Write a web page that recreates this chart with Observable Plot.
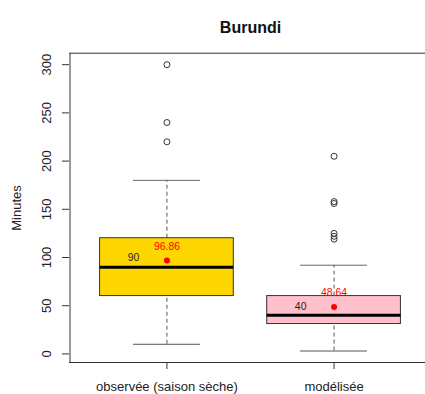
<!DOCTYPE html>
<html>
<head>
<meta charset="utf-8">
<script src="https://cdn.jsdelivr.net/npm/d3@7"></script>
<script src="https://cdn.jsdelivr.net/npm/@observablehq/plot@0.6"></script>
<style>
  html, body { margin: 0; padding: 0; background: white; overflow: hidden; }
  #chart svg { display: block; }
</style>
</head>
<body>
<div id="chart"></div>
<script>
// Travel time (minutes) — Burundi: observed (dry season) vs modelled
const groups = ["observée (saison sèche)", "modélisée"];
const fills = ["#FFD700", "#FFC0CB"];
const whiskerLow = [10, 3];
const q1 = [60, 31];
const median = [90, 40];
const q3 = [120, 60];
const whiskerHigh = [180, 92];
const means = [96.86, 48.64];
const outliers = [
  [220, 240, 300],
  [119, 122, 125, 156, 158, 205]
];
const yTicks = [0, 50, 100, 150, 200, 250, 300];

const boxes = groups.map((g, i) => ({
  pos: i + 1, name: g, fill: fills[i],
  lo: whiskerLow[i], q1: q1[i], med: median[i], q3: q3[i], hi: whiskerHigh[i], mean: means[i]
}));
const outlierPts = outliers.flatMap((vals, i) => vals.map(v => ({pos: i + 1, v})));

const xDomain = [0.42, 2.58];
const yDomain = [-8.9, 311.9];
const xMid = (xDomain[0] + xDomain[1]) / 2;
const font = "'Liberation Sans', Arial, Helvetica, sans-serif";

const chart = Plot.plot({
  width: 425,
  height: 394,
  marginLeft: 69,
  marginTop: 53,
  marginBottom: 32,
  marginRight: 0,
  style: {fontFamily: font, fontSize: "13px", color: "#111", background: "white"},
  x: {type: "linear", domain: xDomain, range: [69.5, 430.5], axis: null},
  y: {domain: yDomain, range: [362, 52.7], axis: null},
  marks: [
    // whiskers
    Plot.ruleX(boxes, {x: "pos", y1: "q3", y2: "hi", stroke: "#555", strokeDasharray: "4,3"}),
    Plot.ruleX(boxes, {x: "pos", y1: "lo", y2: "q1", stroke: "#555", strokeDasharray: "4,3"}),
    // whisker caps
    Plot.ruleY(boxes, {y: "hi", x1: d => d.pos - 0.2, x2: d => d.pos + 0.2, stroke: "#666"}),
    Plot.ruleY(boxes, {y: "lo", x1: d => d.pos - 0.2, x2: d => d.pos + 0.2, stroke: "#555"}),
    // boxes
    Plot.rect(boxes, {x1: d => d.pos - 0.4, x2: d => d.pos + 0.4, y1: "q1", y2: "q3", fill: "fill", stroke: "#333"}),
    // medians
    Plot.ruleY(boxes, {y: "med", x1: d => d.pos - 0.4, x2: d => d.pos + 0.4, stroke: "black", strokeWidth: 3}),
    // outliers
    Plot.dot(outlierPts, {x: "pos", y: "v", r: 3, stroke: "#333", fill: "none", strokeWidth: 1}),
    // means
    Plot.dot(boxes, {x: "pos", y: "mean", r: 3, fill: "red", stroke: "none"}),
    Plot.text(boxes, {x: "pos", y: "mean", text: d => d.mean.toFixed(2), dy: -14, fill: "red", fontSize: 10.4}),
    Plot.text(boxes, {x: d => d.pos - 0.2, y: "med", text: d => String(d.med), dy: -9, fill: "#222", fontSize: 10.4}),
    // frame
    Plot.ruleX([xDomain[0]], {stroke: "#333"}),
    Plot.ruleY([yDomain[0], yDomain[1]], {stroke: "#333"}),
    // y axis
    Plot.axisY(yTicks, {anchor: "left", tickSize: 7, tickFormat: () => "", label: null, stroke: "#333"}),
    Plot.text(yTicks, {y: d => d, frameAnchor: "left", dx: -19, rotate: -90, textAnchor: "middle", lineAnchor: "bottom", text: d => String(d), fill: "#222", fontSize: 13}),
    Plot.text(["Minutes"], {frameAnchor: "left", dx: -49, rotate: -90, textAnchor: "middle", lineAnchor: "bottom", fill: "#222", fontSize: 13}),
    // x axis
    Plot.axisX([1, 2], {anchor: "bottom", tickSize: 7, tickPadding: 12, tickFormat: d => groups[d - 1], label: null, stroke: "#333", fill: "#222", fontSize: 13}),
    // title
    Plot.text(["Burundi"], {x: [xMid], frameAnchor: "top", dy: -32, fontWeight: "bold", fontSize: 16, fill: "#111"})
  ]
});
document.getElementById("chart").appendChild(chart);
</script>
</body>
</html>
